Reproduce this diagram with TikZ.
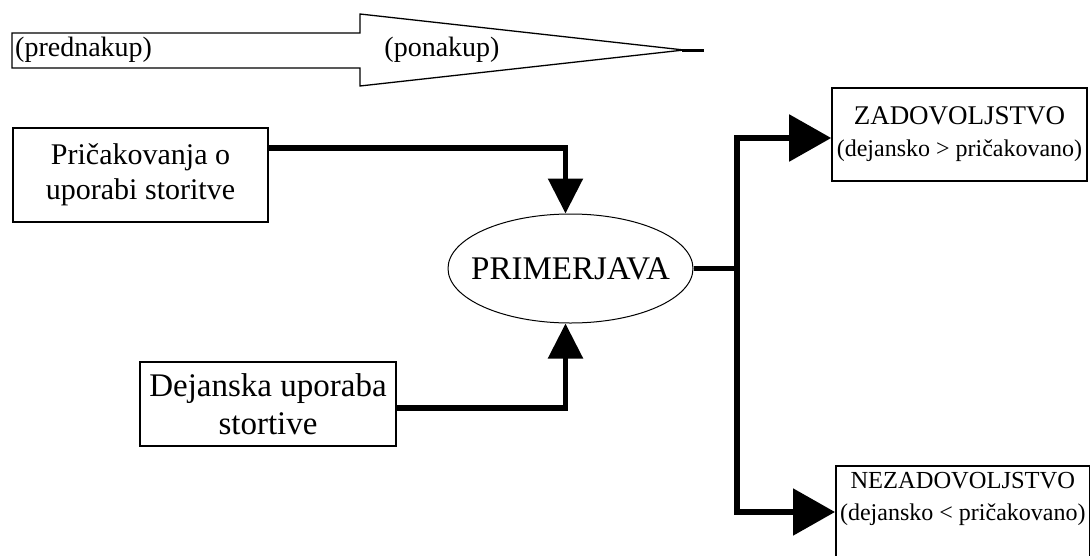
\documentclass[tikz,border=0pt]{standalone}
\usepackage{fontspec}
\setmainfont{Liberation Serif}
\usetikzlibrary{arrows.meta,shapes.geometric}

\begin{document}
\begin{tikzpicture}[x=1pt,y=-1pt,
  box/.style={draw,line width=1.6pt,rectangle,inner sep=0pt,align=center,fill=white},
  conn/.style={line width=5.5pt,line join=miter},
  toptxt/.style={font=\fontsize{28}{32}\selectfont,inner sep=0pt},
  headA/.style={-{Triangle[length=35pt,width=34pt]}},
  headB/.style={-{Triangle[length=42pt,width=46pt]}}]
\useasboundingbox (0,0) rectangle (1090,555);
\clip (0,0) rectangle (1090,555);

% timeline arrow across the top
\draw[line width=1.3pt,line join=miter]
  (12,33) -- (360,33) -- (360,14) -- (684,50) -- (360,86) -- (360,68) -- (12,68) -- cycle;
\coordinate (tipA) at (682,50);
\coordinate (tipB) at (704,50);
\draw[line width=3pt] (tipA) -- (tipB);
\node[toptxt,anchor=west] (pred) at (15,50) {(prednakup)};
\node[toptxt] (pona) at (442,50) {(ponakup)};

% boxes and the comparison ellipse
\node[box,font=\fontsize{30}{35}\selectfont,minimum width=255pt,minimum height=94pt] (exp) at (140.5,175)
  {Pričakovanja o\\uporabi storitve};
\node[box,font=\fontsize{33}{38}\selectfont,minimum width=256pt,minimum height=84pt] (act) at (268,404)
  {Dejanska uporaba\\stortive};
\node[draw,ellipse,line width=1pt,minimum width=245pt,minimum height=109pt,
  inner sep=0pt,font=\fontsize{33}{38}\selectfont] (cmp) at (570.5,268.5) {\makebox[0pt]{PRIMERJAVA}};
\node[box,font=\fontsize{27}{32}\selectfont,minimum width=255pt,minimum height=93pt] (sat) at (959.5,134.5)
  {ZADOVOLJSTVO\\{\fontsize{24}{32}\selectfont(dejansko > pričakovano)}};
\node[box,font=\fontsize{24.5}{32}\selectfont,minimum width=254pt,minimum height=108pt,anchor=north west] (dis) at (835,465)
  {NEZADOVOLJSTVO\\{\fontsize{24}{32}\selectfont(dejansko < pričakovano)}\\[14pt]};

% connectors
\draw[conn,headA] ([yshift=27pt]exp.east) -| ([xshift=-5pt]cmp.north);
\draw[conn,headA] ([yshift=-4pt]act.east) -| ([xshift=-5pt]cmp.south);
\coordinate (fork) at (737,268.5);
\draw[conn] (cmp.east) -- (fork);
\draw[conn,headB] (fork) |- ([yshift=-3.5pt]sat.west);
\draw[conn,headB] (fork) |- (dis.west |- 0,512);
\end{tikzpicture}
\end{document}
